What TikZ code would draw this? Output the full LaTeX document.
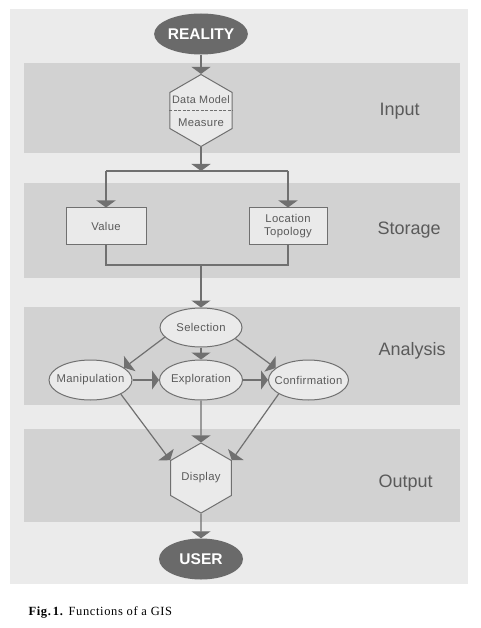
\documentclass[tikz,border=0pt]{standalone}
\usepackage{fontspec}
\setmainfont{Liberation Sans}
\newfontfamily\capfont[LetterSpace=5]{Liberation Serif}
\newfontfamily\nodefont[LetterSpace=3]{Liberation Sans}
\usetikzlibrary{arrows.meta,shapes.geometric}
\definecolor{panel}{HTML}{EBEBEB}
\definecolor{band}{HTML}{D2D2D2}
\definecolor{linec}{HTML}{707070}
\definecolor{nodefill}{HTML}{EAEAEA}
\definecolor{darkell}{HTML}{6A6A6A}
\definecolor{txt}{HTML}{5A5A5A}
\begin{document}
\begin{tikzpicture}[x=1pt,y=-1pt,
  arr/.style={draw=linec, line width=1.2pt, -{Triangle[width=19pt,length=7pt]}},
  conn/.style={draw=linec, line width=1.2pt},
  nodetext/.style={text=txt, font=\nodefont\fontsize{11.3}{13}\selectfont},
  box/.style={nodetext, draw=linec, line width=1pt, fill=nodefill, minimum width=80pt, minimum height=36pt, inner sep=1pt, align=center},
  ell/.style={nodetext, ellipse, draw=linec, line width=1pt, fill=nodefill, minimum width=82pt, minimum height=39pt, inner xsep=-6pt, inner ysep=0pt},
  term/.style={ellipse, fill=darkell, minimum width=84pt, minimum height=41pt, inner sep=0pt, text=white, font=\fontsize{15.5}{16}\bfseries\selectfont},
  hex/.style={nodetext, regular polygon, regular polygon sides=6, shape border rotate=30, draw=linec, line width=1pt, fill=nodefill, minimum size=70pt, inner sep=0pt},
  lab/.style={anchor=base west, text=txt, font=\fontsize{18}{18}\selectfont}
]
\useasboundingbox (0,0) rectangle (481,628);
% panel and bands
\fill[white] (0,0) rectangle (481,628);
\fill[panel] (10,9) rectangle (468,584);
\fill[band] (24,63) rectangle (460,153);
\fill[band] (24,183) rectangle (460,278);
\fill[band] (24,307) rectangle (460,405);
\fill[band] (24,429) rectangle (460,522);
% labels
\node[lab] (linput) at (376,116) {Input};
\node[lab] (lstorage) at (374,234) {Storage};
\node[lab] (lanalysis) at (375,355) {Analysis};
\node[lab] (loutput) at (375,487) {Output};
% nodes
\node[term] (real) at (201,34) {REALITY};
\node[hex, minimum size=72pt] (dm) at (201,110.5) {};
\node[nodetext, font=\nodefont\fontsize{10.8}{13}\selectfont] (dmt) at (201,100) {Data Model};
\node[nodetext] (mst) at (201,123) {Measure};
\draw[linec, line width=1pt, dash pattern=on 3pt off 1.5pt] (dm.west) -- (dm.east);
\coordinate (j1) at (201,171);
\coordinate (j1l) at (106,171);
\coordinate (j1r) at (288,171);
\node[box] (val) at (106,226) {Value};
\node[box, minimum width=78pt] (loc) at (288,226) {Location\\Topology};
\coordinate (j2) at (201,265);
\coordinate (j2l) at (106,265);
\coordinate (j2r) at (288,265);
\node[ell] (sel) at (201,327.5) {Selection};
\node[ell, minimum width=83pt, minimum height=40pt] (man) at (90.5,380) {Manipulation};
\node[ell, minimum width=83pt, minimum height=40pt] (exp) at (201,380) {Exploration};
\node[ell, minimum width=80pt, minimum height=40pt] (conf) at (308.5,380) {Confirmation};
\node[hex] (disp) at (201,478) {Display};
\node[term] (user) at (201,559) {USER};
% connectors
\draw[arr] (real.south) -- (dm.north);
\draw[arr] (dm.south) -- (j1);
\draw[conn] (j1l) -- (j1r);
\draw[arr] (j1l) -- (val.north);
\draw[arr] (j1r) -- (loc.north);
\draw[conn] (val.south) -- (j2l) -- (j2r) -- (loc.south);
\draw[arr] (j2) -- (sel.north);
\draw[arr] (sel.195) -- (man.20);
\draw[arr] (sel.south) -- (exp.north);
\draw[arr] (sel.342) -- (conf.160);
\draw[arr] (man.east) -- (exp.west);
\draw[arr] (exp.east) -- (conf.west);
\draw[arr] (man.335) -- (disp.150);
\draw[arr] (exp.south) -- (disp.north);
\draw[arr] (conf.205) -- (disp.30);
\draw[arr] (disp.south) -- (user.north);
% caption
\node[anchor=base west, font=\capfont\fontsize{12.5}{14}\selectfont] (cap) at (25,615) {\textbf{Fig.\,1.} Functions of a GIS};
\end{tikzpicture}
\end{document}
